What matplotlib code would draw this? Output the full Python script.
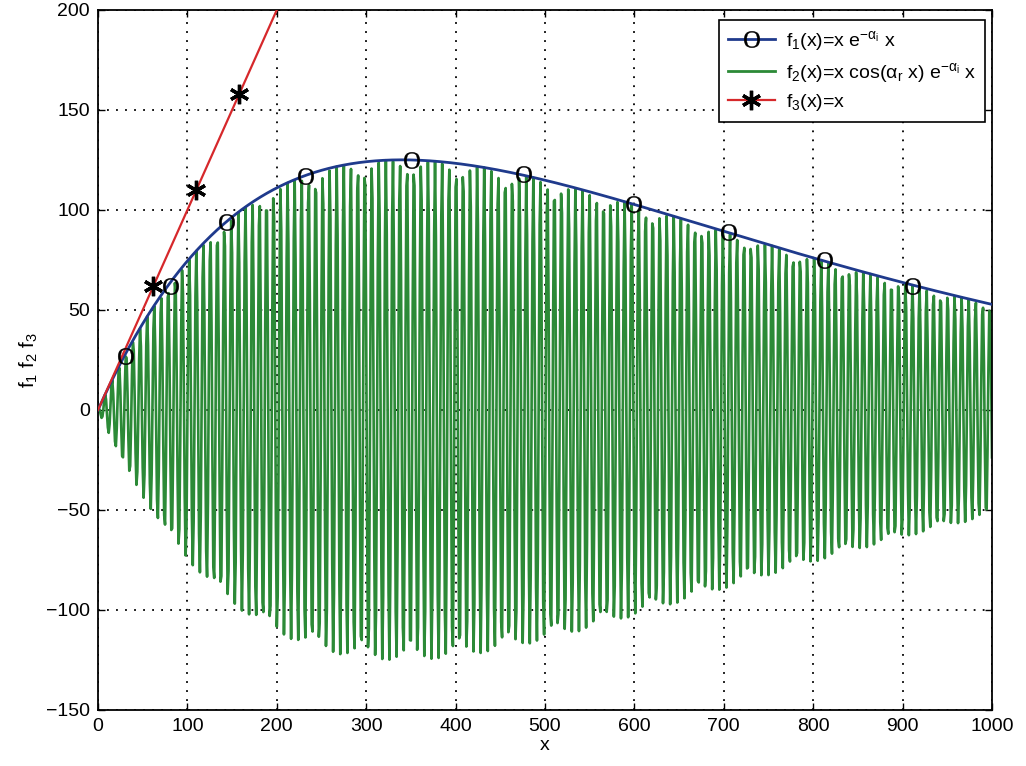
import numpy as np
import matplotlib
matplotlib.use("Agg")
import matplotlib.pyplot as plt
from matplotlib.lines import Line2D
from matplotlib.textpath import TextPath
from matplotlib.font_manager import FontProperties
from matplotlib.path import Path

# ─── Data ─────────────────────────────────────────────────────────────────────
alpha_i = 1 / 340.0          # decay rate, peak of f1 at x = 1/alpha_i
alpha_r = 0.80               # oscillation rate of f2 (period ~ 7.9)
x = np.arange(0, 1001, 1.0)  # sampled with unit step

f1_mark_x = [30, 80, 143, 232, 350, 475, 598, 705, 812, 910]
f1_mark_y = [27, 62, 94, 117, 125, 118, 103, 89, 75, 62]
f3_mark_x = [62, 110, 158]
f3_mark_y = [62, 110, 158]

xticks = np.arange(0, 1001, 100)
yticks = np.arange(-150, 201, 50)

# ─── Style ────────────────────────────────────────────────────────────────────
plt.rcParams["font.family"] = ["Liberation Sans", "DejaVu Sans"]
plt.rcParams["mathtext.fontset"] = "custom"
plt.rcParams["mathtext.rm"] = "Liberation Sans"
plt.rcParams["mathtext.it"] = "Liberation Sans"
plt.rcParams["mathtext.bf"] = "Liberation Sans:bold"

BLUE, GREEN, RED = "#1f3a8c", "#2c8a37", "#d6282b"

# serif "O" marker, like the original glyph
o_path = TextPath((0, 0), "O", prop=FontProperties(family="Liberation Serif"))
verts = o_path.vertices.copy()
verts -= (verts.min(axis=0) + verts.max(axis=0)) / 2
o_marker = Path(verts, o_path.codes)

f1 = x * np.exp(-alpha_i * x)
f2 = x * np.cos(alpha_r * x) * np.exp(-alpha_i * x)
f3 = x

fig = plt.figure(figsize=(10.26, 7.66), dpi=100)
ax = fig.add_axes([98 / 1026, 1 - 710 / 766, 894 / 1026, 700 / 766])

ax.plot(x, f2, color=GREEN, lw=1.9, zorder=2)
ax.plot(x, f1, color=BLUE, lw=2.0, zorder=3)
ax.plot(x, f3, color=RED, lw=1.6, zorder=3)
ax.plot(f1_mark_x, f1_mark_y, ls="none", marker=o_marker, ms=12, mew=0.3,
        color="black", zorder=4)
ax.plot(f3_mark_x, f3_mark_y, ls="none", marker=(6, 2, 0), ms=14, mew=2.4,
        color="black", zorder=4)

ax.set_xlim(0, 1000)
ax.set_ylim(-150, 200)
ax.set_xticks(xticks)
ax.set_yticks(yticks)
ax.tick_params(direction="in", top=True, right=True, length=5, width=1,
               labelsize=14, pad=6)
ax.grid(True, color="black", ls=(0, (1, 4)), lw=1.3)
for s in ax.spines.values():
    s.set_linewidth(1.3)

ax.set_xlabel("x", fontsize=14, labelpad=1)
ax.set_ylabel("f$_1$ f$_2$ f$_3$", fontsize=15, labelpad=4)

handles = [
    Line2D([], [], color=BLUE, lw=2.0, marker=o_marker, ms=12, mew=0.3,
           mfc="black", mec="black"),
    Line2D([], [], color=GREEN, lw=2.0),
    Line2D([], [], color=RED, lw=1.6, marker=(6, 2, 0), ms=14,
           mew=2.4, mec="black"),
]
labels = [
    r"f$_1$(x)=x e$^{-\alpha_\mathrm{i}}$ x",
    r"f$_2$(x)=x cos($\alpha_\mathrm{r}$ x) e$^{-\alpha_\mathrm{i}}$ x",
    r"f$_3$(x)=x",
]
leg = ax.legend(handles, labels, loc="upper right",
                bbox_to_anchor=(887 / 894, 690 / 700), borderaxespad=0,
                fontsize=14, fancybox=False, framealpha=1,
                edgecolor="black", handlelength=2.4, handletextpad=0.6,
                labelspacing=0.4, borderpad=0.45)
leg.get_frame().set_linewidth(1.2)

fig.savefig("out.png", dpi=100)
